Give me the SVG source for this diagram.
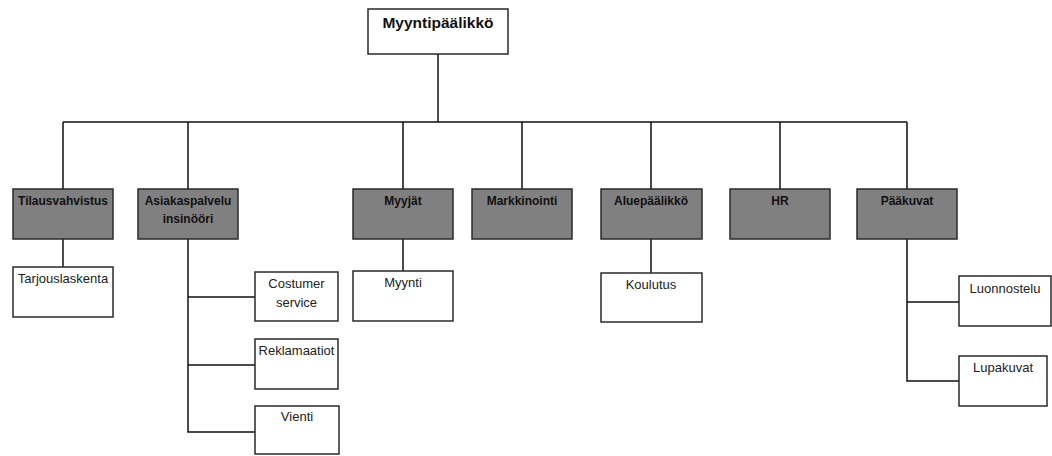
<svg xmlns="http://www.w3.org/2000/svg" width="1052" height="456" viewBox="0 0 1052 456">
  <style>
    .box { fill: #ffffff; stroke: #2a2a2a; stroke-width: 1.5; }
    .dept { fill: #808080; stroke: #2a2a2a; stroke-width: 1.5; }
    .lbl { font-family: "Liberation Sans", Arial, sans-serif; font-size: 13px; fill: #222; text-anchor: middle; }
    .hd { font-family: "Liberation Sans", Arial, sans-serif; font-size: 12px; font-weight: bold; fill: #111; text-anchor: middle; }
    .title { font-family: "Liberation Sans", Arial, sans-serif; font-size: 15.5px; font-weight: bold; fill: #111; text-anchor: middle; }
    .wire { fill: none; stroke: #111; stroke-width: 1.5; }
  </style>

  <!-- connectors -->
  <g id="connectors">
    <path class="wire" d="M438 54 V122"/>
    <path class="wire" d="M63 122 H907"/>
    <path class="wire" d="M63 122 V189 M188 122 V189 M403 122 V189 M522 122 V189 M651 122 V189 M780 122 V189 M907 122 V189"/>
    <path class="wire" d="M63 239 V267"/>
    <path class="wire" d="M403 239 V271"/>
    <path class="wire" d="M651 239 V273"/>
    <path class="wire" d="M188 239 V432 H255 M188 297 H255 M188 365 H255"/>
    <path class="wire" d="M907 239 V381 H959 M907 302 H959"/>
  </g>

  <!-- top -->
  <g id="myyntipaalikko">
    <rect class="box" x="368" y="9" width="140" height="45"/>
    <text class="title" x="438" y="28">Myyntipäälikkö</text>
  </g>

  <!-- departments -->
  <g id="tilausvahvistus">
    <rect class="dept" x="13" y="189" width="100" height="50"/>
    <text class="hd" x="63" y="205">Tilausvahvistus</text>
  </g>
  <g id="asiakaspalvelu">
    <rect class="dept" x="138" y="189" width="100" height="50"/>
    <text class="hd" x="188" y="205">Asiakaspalvelu</text>
    <text class="hd" x="188" y="223">insinööri</text>
  </g>
  <g id="myyjat">
    <rect class="dept" x="353" y="189" width="100" height="50"/>
    <text class="hd" x="403" y="205">Myyjät</text>
  </g>
  <g id="markkinointi">
    <rect class="dept" x="472" y="189" width="100" height="50"/>
    <text class="hd" x="522" y="205">Markkinointi</text>
  </g>
  <g id="aluepaalikko">
    <rect class="dept" x="601" y="189" width="101" height="50"/>
    <text class="hd" x="651" y="205">Aluepäälikkö</text>
  </g>
  <g id="hr">
    <rect class="dept" x="730" y="189" width="100" height="50"/>
    <text class="hd" x="780" y="205">HR</text>
  </g>
  <g id="paakuvat">
    <rect class="dept" x="857" y="189" width="100" height="50"/>
    <text class="hd" x="907" y="205">Pääkuvat</text>
  </g>

  <!-- sub units -->
  <g id="tarjouslaskenta">
    <rect class="box" x="13" y="267" width="100" height="50"/>
    <text class="lbl" x="63" y="283">Tarjouslaskenta</text>
  </g>
  <g id="costumer-service">
    <rect class="box" x="255" y="272" width="83" height="49"/>
    <text class="lbl" x="296.5" y="288">Costumer</text>
    <text class="lbl" x="296.5" y="307">service</text>
  </g>
  <g id="reklamaatiot">
    <rect class="box" x="255" y="339" width="83" height="50"/>
    <text class="lbl" x="296.5" y="355">Reklamaatiot</text>
  </g>
  <g id="vienti">
    <rect class="box" x="255" y="406" width="84" height="48"/>
    <text class="lbl" x="297" y="421">Vienti</text>
  </g>
  <g id="myynti">
    <rect class="box" x="353" y="271" width="100" height="50"/>
    <text class="lbl" x="403" y="287">Myynti</text>
  </g>
  <g id="koulutus">
    <rect class="box" x="601" y="273" width="101" height="49"/>
    <text class="lbl" x="651" y="289">Koulutus</text>
  </g>
  <g id="luonnostelu">
    <rect class="box" x="959" y="276" width="92" height="50"/>
    <text class="lbl" x="1005" y="293">Luonnostelu</text>
  </g>
  <g id="lupakuvat">
    <rect class="box" x="959" y="356" width="88" height="50"/>
    <text class="lbl" x="1003" y="372">Lupakuvat</text>
  </g>
</svg>
